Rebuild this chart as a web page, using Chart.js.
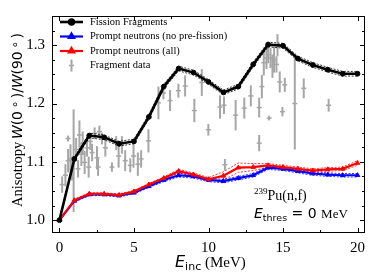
<!DOCTYPE html>
<html>
<head>
<meta charset="utf-8">
<script src="https://cdn.jsdelivr.net/npm/chart.js@4/dist/chart.umd.min.js"></script>
<style>
html,body{margin:0;padding:0;background:#fff;}
#c{display:block;}
</style>
</head>
<body>
<canvas id="c" width="374" height="280"></canvas>
<script>
// ---- data ----
const energies = [0,1,2,3,4,5,6,7,8,9,10,11,12,13,14,15,16,17,18,19,20];
const fissionFragments = [1.000,1.105,1.145,1.142,1.131,1.135,1.177,1.229,1.260,1.253,1.237,1.219,1.229,1.267,1.301,1.299,1.277,1.266,1.258,1.251,1.251];
const fissionFragmentsErr = [0.000,0.003,0.004,0.004,0.004,0.004,0.004,0.004,0.004,0.004,0.004,0.004,0.004,0.004,0.004,0.004,0.004,0.004,0.004,0.004,0.004];
const promptNoPre = [1.000,1.033,1.044,1.044,1.042,1.047,1.058,1.069,1.077,1.075,1.069,1.067,1.072,1.077,1.090,1.088,1.084,1.080,1.078,1.077,1.077];
const promptNoPreErr = [0.000,0.002,0.002,0.002,0.002,0.002,0.002,0.003,0.003,0.003,0.003,0.003,0.003,0.003,0.003,0.003,0.003,0.003,0.003,0.003,0.003];
const promptAll = [1.000,1.034,1.045,1.045,1.043,1.049,1.061,1.072,1.084,1.078,1.070,1.076,1.090,1.091,1.094,1.091,1.088,1.085,1.087,1.088,1.098];
const promptAllErr = [0.000,0.002,0.002,0.002,0.002,0.002,0.002,0.002,0.003,0.003,0.003,0.007,0.008,0.006,0.003,0.003,0.003,0.003,0.003,0.003,0.004];

const fragE = [0.18,0.40,0.58,0.58,0.74,0.85,0.95,1.12,1.25,1.34,1.47,1.56,1.69,1.85,1.96,2.07,2.19,2.36,2.52,2.59,2.68,2.85,3.08,3.52,3.81,3.97,4.19,4.41,4.75,4.97,5.26,5.48,5.97,6.64,6.98,7.42,7.98,8.43,9.05,9.55,9.99,10.77,11.04,11.10,11.82,12.40,12.84,13.40,13.40,13.58,13.71,13.89,14.00,14.07,14.16,14.29,14.40,14.56,14.63,14.78,14.96,15.12,15.79,16.39,18.06];
const fragW = [1.061,1.077,1.102,1.140,1.105,1.088,1.102,1.121,1.088,1.146,1.113,1.132,1.099,1.124,1.091,1.135,1.116,1.149,1.107,1.091,1.152,1.140,1.124,1.091,1.132,1.110,1.129,1.102,1.094,1.110,1.096,1.105,1.136,1.201,1.218,1.205,1.222,1.230,1.188,1.236,1.155,1.194,1.197,1.095,1.180,1.192,1.213,1.193,1.132,1.229,1.270,1.278,1.284,1.175,1.278,1.264,1.275,1.267,1.300,1.237,1.186,1.232,1.200,1.226,1.197];
const fragErr = [0.014,0.019,0.020,0.005,0.025,0.020,0.088,0.020,0.015,0.025,0.020,0.020,0.020,0.015,0.018,0.015,0.015,0.010,0.020,0.015,0.010,0.010,0.015,0.008,0.012,0.020,0.015,0.018,0.012,0.020,0.020,0.015,0.020,0.028,0.011,0.018,0.012,0.018,0.020,0.023,0.010,0.020,0.015,0.010,0.026,0.018,0.018,0.017,0.014,0.020,0.022,0.019,0.015,0.004,0.017,0.020,0.022,0.014,0.019,0.018,0.008,0.012,0.079,0.017,0.011];

const xTicks = [0,5,10,15,20];
const yTicks = [1.0,1.1,1.2,1.3];
const yTickLabels = ['1.0','1.1','1.2','1.3'];
const seriesLabels = ['Fission Fragments','Prompt neutrons (no pre-fission)','Prompt neutrons (all)','Fragment data'];

// ---- styles ----
const BLACK = '#000000', BLUE = '#0000ff', RED = '#ff0000', GRAY = '#a6a6a6';
const SERIF = '"Liberation Serif", "Times New Roman", serif';
const SANS = '"DejaVu Sans", sans-serif';

const pts = (xs, ys) => xs.map((x, i) => ({x: x, y: ys[i]}));
const band = (xs, ys, es, s) => xs.map((x, i) => ({x: x, y: ys[i] + s * es[i]}));

function bandSet(ys, es, s, color) {
  return {data: band(energies, ys, es, s), borderColor: color, borderWidth: 0.8, borderDash: [2, 1.5],
    pointRadius: 0, fill: false, tension: 0, order: 5};
}

const datasets = [
  {label: seriesLabels[3], data: pts(fragE, fragW), showLine: false, pointStyle: 'line', pointRadius: 2.5,
   borderColor: GRAY, backgroundColor: GRAY, pointBorderWidth: 1.5, order: 20, errs: fragErr, isFrag: true},
  bandSet(fissionFragments, fissionFragmentsErr, 1, BLACK),
  bandSet(fissionFragments, fissionFragmentsErr, -1, BLACK),
  bandSet(promptNoPre, promptNoPreErr, 1, BLUE),
  bandSet(promptNoPre, promptNoPreErr, -1, BLUE),
  bandSet(promptAll, promptAllErr, 1, RED),
  bandSet(promptAll, promptAllErr, -1, RED),
  {label: seriesLabels[1], data: pts(energies, promptNoPre), borderColor: BLUE, backgroundColor: BLUE,
   borderWidth: 2.2, pointStyle: 'triangle', pointRadius: 2.6, pointBorderWidth: 1, tension: 0, order: 3},
  {label: seriesLabels[2], data: pts(energies, promptAll), borderColor: RED, backgroundColor: RED,
   borderWidth: 2.2, pointStyle: 'triangle', pointRadius: 2.6, pointBorderWidth: 1, tension: 0, order: 2},
  {label: seriesLabels[0], data: pts(energies, fissionFragments), borderColor: BLACK, backgroundColor: BLACK,
   borderWidth: 2.6, pointStyle: 'circle', pointRadius: 2.4, pointBorderWidth: 1, tension: 0, order: 1}
];

const errorBars = {
  id: 'errorBars',
  beforeDatasetsDraw(chart) {
    const ctx = chart.ctx, xs = chart.scales.x, ys = chart.scales.y;
    chart.data.datasets.forEach(ds => {
      if (!ds.isFrag) return;
      ctx.save();
      ctx.strokeStyle = GRAY; ctx.lineWidth = 2;
      ds.data.forEach((p, i) => {
        const px = xs.getPixelForValue(p.x);
        ctx.beginPath();
        ctx.moveTo(px, ys.getPixelForValue(p.y + ds.errs[i]));
        ctx.lineTo(px, ys.getPixelForValue(p.y - ds.errs[i]));
        ctx.stroke();
      });
      ctx.restore();
    });
  }
};

function drawRuns(ctx, runs, x, y) {
  let cx = x;
  runs.forEach(r => {
    ctx.font = r[1];
    ctx.fillText(r[0], cx, y + (r[2] || 0));
    cx += ctx.measureText(r[0]).width;
  });
  return cx;
}
function runsWidth(ctx, runs) {
  let w = 0;
  runs.forEach(r => { ctx.font = r[1]; w += ctx.measureText(r[0]).width; });
  return w;
}

const decor = {
  id: 'decor',
  afterDraw(chart) {
    const ctx = chart.ctx, a = chart.chartArea, xs = chart.scales.x, ys = chart.scales.y;
    ctx.save();
    // frame
    ctx.strokeStyle = '#000'; ctx.lineWidth = 1;
    ctx.strokeRect(Math.round(a.left) + 0.5, Math.round(a.top) + 0.5, Math.round(a.right - a.left) - 1, Math.round(a.bottom - a.top) - 1);
    // inward ticks
    ctx.beginPath();
    for (let k = 0; k <= 8; k++) {
      const v = k * 2.5, px = Math.round(xs.getPixelForValue(v)) + 0.5, L = (k % 2 === 0) ? 5 : 3;
      ctx.moveTo(px, a.bottom); ctx.lineTo(px, a.bottom - L);
      ctx.moveTo(px, a.top); ctx.lineTo(px, a.top + L);
    }
    for (let k = 0; k <= 13; k++) {
      const v = 1.0 + k * 0.025, py = Math.round(ys.getPixelForValue(v)) + 0.5, L = (k % 4 === 0) ? 5 : 3;
      if (py < a.top) continue;
      ctx.moveTo(a.left, py); ctx.lineTo(a.left + L, py);
      ctx.moveTo(a.right, py); ctx.lineTo(a.right - L, py);
    }
    ctx.stroke();

    // legend
    const rows = [22, 36.5, 51, 65.5];
    const x0 = 60, x1 = 83, xm = 71.5;
    const items = [
      {label: seriesLabels[0], color: BLACK, style: 'circle', lw: 2.6},
      {label: seriesLabels[1], color: BLUE, style: 'triangle', lw: 2.2},
      {label: seriesLabels[2], color: RED, style: 'triangle', lw: 2.2},
      {label: seriesLabels[3], color: GRAY, style: 'err'}
    ];
    items.forEach((it, i) => {
      const y = rows[i];
      ctx.strokeStyle = it.color; ctx.fillStyle = it.color;
      if (it.style === 'err') {
        ctx.lineWidth = 2;
        ctx.beginPath(); ctx.moveTo(xm, y - 6); ctx.lineTo(xm, y + 6); ctx.stroke();
        ctx.lineWidth = 1.5;
        ctx.beginPath(); ctx.moveTo(xm - 2.5, y); ctx.lineTo(xm + 2.5, y); ctx.stroke();
      } else {
        ctx.lineWidth = it.lw;
        ctx.beginPath(); ctx.moveTo(x0, y); ctx.lineTo(x1, y); ctx.stroke();
        Chart.helpers.drawPoint(ctx, {pointStyle: it.style, radius: it.style === 'circle' ? 2.4 : 3, borderWidth: 1}, xm, y);
        ctx.fill();
      }
      ctx.fillStyle = '#000';
      ctx.font = '10.5px ' + SERIF;
      ctx.textBaseline = 'middle'; ctx.textAlign = 'left';
      ctx.fillText(it.label, 90, y);
    });

    // annotation
    ctx.fillStyle = '#000'; ctx.textBaseline = 'alphabetic';
    drawRuns(ctx, [['239', '9px ' + SERIF, -6], ['Pu(n,f)', '14px ' + SERIF, 0]], 254, 200);
    drawRuns(ctx, [['E', 'italic 14px ' + SANS, 0], ['thres', '9.5px ' + SANS, 3], [' = 0 ', '14px ' + SANS, 0], ['MeV', '13px ' + SERIF, 0]], 254, 218);

    // x title
    drawRuns(ctx, [['E', 'italic 16px ' + SANS, 0], ['inc', '11px ' + SANS, 3], [' (MeV)', '15px ' + SERIF, 0]], 175, 267);

    // y title (rotated)
    ctx.translate(22, 120);
    ctx.rotate(-Math.PI / 2);
    const runsA = [['Anisotropy', '14.5px ' + SERIF, 0]];
    drawRuns(ctx, runsA, -87, 0);
    const mk = fs => [['W', 'italic ' + fs + 'px ' + SANS, 0], ['(0\u2009', fs + 'px ' + SANS, 0], ['\u2218', (fs * 0.85) + 'px ' + SANS, -fs * 0.22],
                   ['\u2009)/', fs + 'px ' + SANS, 0], ['W', 'italic ' + fs + 'px ' + SANS, 0], ['(90\u2009', fs + 'px ' + SANS, 0],
                   ['\u2218', (fs * 0.85) + 'px ' + SANS, -fs * 0.22], ['\u2009)', fs + 'px ' + SANS, 0]];
    const w14 = runsWidth(ctx, mk(14));
    const fs = 14 * 106 / w14;
    drawRuns(ctx, mk(fs), 87 - 106, 0);
    ctx.restore();
  }
};

new Chart(document.getElementById('c'), {
  type: 'line',
  data: {datasets: datasets},
  options: {
    responsive: false,
    animation: false,
    devicePixelRatio: 1,
    layout: {padding: {left: 0, top: 8, right: 9, bottom: 0}},
    plugins: {legend: {display: false}, tooltip: {enabled: false}},
    scales: {
      x: {
        type: 'linear', min: -0.5, max: 20.5,
        afterBuildTicks: s => { s.ticks = xTicks.map(v => ({value: v})); },
        afterFit: s => { s.height = 47; },
        ticks: {font: {family: SERIF, size: 15}, color: '#000', padding: 6, maxRotation: 0, autoSkip: false,
                callback: v => String(v)},
        grid: {display: false, drawTicks: false},
        border: {display: false}
      },
      y: {
        type: 'linear', min: 0.978, max: 1.35,
        afterBuildTicks: s => { s.ticks = yTicks.map(v => ({value: v})); },
        afterFit: s => { s.width = 52; },
        ticks: {font: {family: SERIF, size: 15}, color: '#000', padding: 7, autoSkip: false,
                callback: v => yTickLabels[yTicks.findIndex(t => Math.abs(t - v) < 1e-9)]},
        grid: {display: false, drawTicks: false},
        border: {display: false}
      }
    }
  },
  plugins: [errorBars, decor]
});
</script>
</body>
</html>
